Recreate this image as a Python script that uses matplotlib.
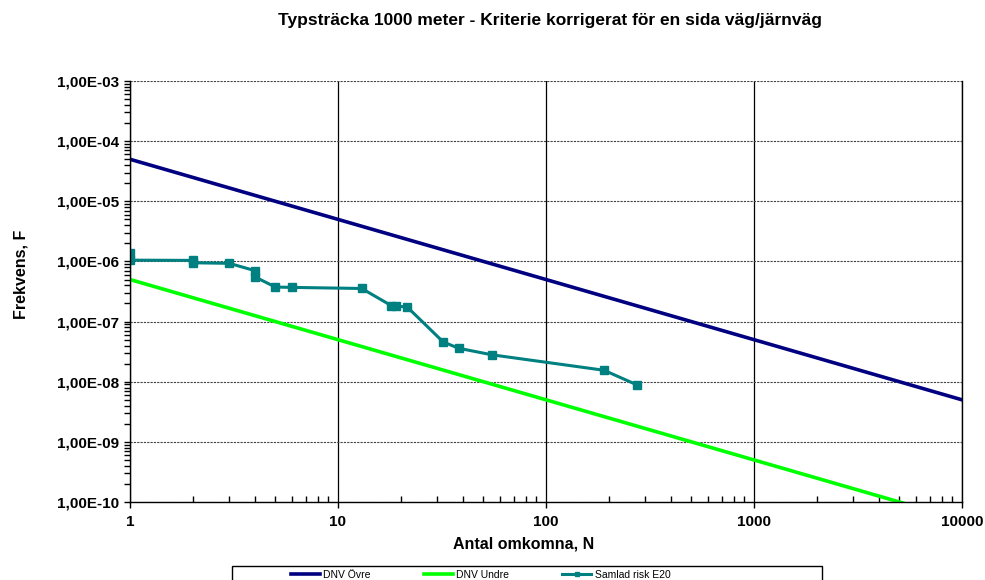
import numpy as np
import matplotlib
matplotlib.use('Agg')
import matplotlib.pyplot as plt
from matplotlib.patches import Rectangle
from matplotlib.ticker import FixedLocator, FuncFormatter, LogLocator, NullFormatter

plt.rcParams['font.family'] = ['Liberation Sans', 'DejaVu Sans']

# DNV criteria lines (F = C / N)
n_line = [1, 10000]
dnv_ovre = [5e-5, 5e-9]
dnv_undre = [5e-7, 5e-11]

# Samlad risk E20, F/N points
n_risk = [1, 1, 2, 2, 3, 4, 4, 5, 6, 13, 18, 19, 21.5, 32, 38, 55, 190, 275]
f_risk = [1.4e-6, 1.05e-6, 1.04e-6, 0.95e-6, 0.93e-6, 7.0e-7, 5.5e-7, 3.75e-7,
          3.7e-7, 3.55e-7, 1.85e-7, 1.8e-7, 1.75e-7, 4.6e-8, 3.6e-8, 2.8e-8,
          1.55e-8, 8.8e-9]

fig = plt.figure(figsize=(9.85, 5.8), dpi=100)
ax = fig.add_axes([130/985, 1-502/580, 832/985, 421/580])

ax.plot(n_line, dnv_ovre, color='#000080', lw=2.6, label='DNV Övre')
ax.plot(n_line, dnv_undre, color='#00ff00', lw=2.6, label='DNV Undre')
ax.plot(n_risk, f_risk, color='#008080', lw=2.2, marker='s', ms=6,
        label='Samlad risk E20')

ax.set_xscale('log')
ax.set_yscale('log')
ax.set_xlim(1, 10000)
ax.set_ylim(1e-10, 1e-3)

ax.xaxis.set_major_locator(FixedLocator([1, 10, 100, 1000, 10000]))
ax.xaxis.set_major_formatter(FuncFormatter(lambda v, p: '%d' % round(v)))
ax.xaxis.set_minor_locator(LogLocator(base=10, subs=np.arange(2, 10)))
ax.xaxis.set_minor_formatter(NullFormatter())
ax.yaxis.set_major_locator(FixedLocator([10.0**k for k in range(-10, -2)]))
ax.yaxis.set_major_formatter(FuncFormatter(
    lambda v, p: '1,00E-%02d' % round(-np.log10(v))))
ax.yaxis.set_minor_locator(LogLocator(base=10, subs=np.arange(2, 10)))
ax.yaxis.set_minor_formatter(NullFormatter())

ax.tick_params(axis='x', which='major', direction='out', length=4, width=1, pad=5)
ax.tick_params(axis='x', which='minor', direction='in', length=4, width=1)
ax.tick_params(axis='y', which='both', direction='out', length=4, width=1, pad=4)
ax.tick_params(labelsize=11)
for t in ax.get_xticklabels() + ax.get_yticklabels():
    t.set_fontweight('bold')

ax.grid(True, which='major', axis='x', color='black', lw=0.9, ls='-')
ax.grid(True, which='major', axis='y', color='#444444', lw=0.8, ls=(0, (2, 1)))
ax.set_axisbelow(True)
ax.spines['top'].set_visible(False)
for s in ['left', 'bottom', 'right']:
    ax.spines[s].set_linewidth(1)

ax.set_xlabel('Antal omkomna, N', fontsize=11.5, fontweight='bold')
ax.xaxis.set_label_coords(0.4736, -0.083)
ax.set_ylabel('Frekvens, F', fontsize=11.5, fontweight='bold', va='center')
ax.yaxis.set_label_coords(-0.131, 0.54)
fig.text(550/985, 1-20/580, 'Typsträcka 1000 meter - Kriterie korrigerat för en sida väg/järnväg',
         ha='center', va='center', fontsize=12.5, fontweight='bold')

# legend box at the bottom edge
fig.patches.append(Rectangle((232/985, -0.02), 590/985, 0.02 + 14/580,
                             transform=fig.transFigure, fill=False,
                             edgecolor='black', lw=1))
leg = fig.legend(loc='center left', bbox_to_anchor=(291/985, 1-575/580),
                 ncol=3, fontsize=7.5, frameon=False, handlelength=2.8,
                 handletextpad=0.3, columnspacing=5.1, borderpad=0,
                 borderaxespad=0, markerscale=0.6)

fig.savefig('out.png', dpi=100)
